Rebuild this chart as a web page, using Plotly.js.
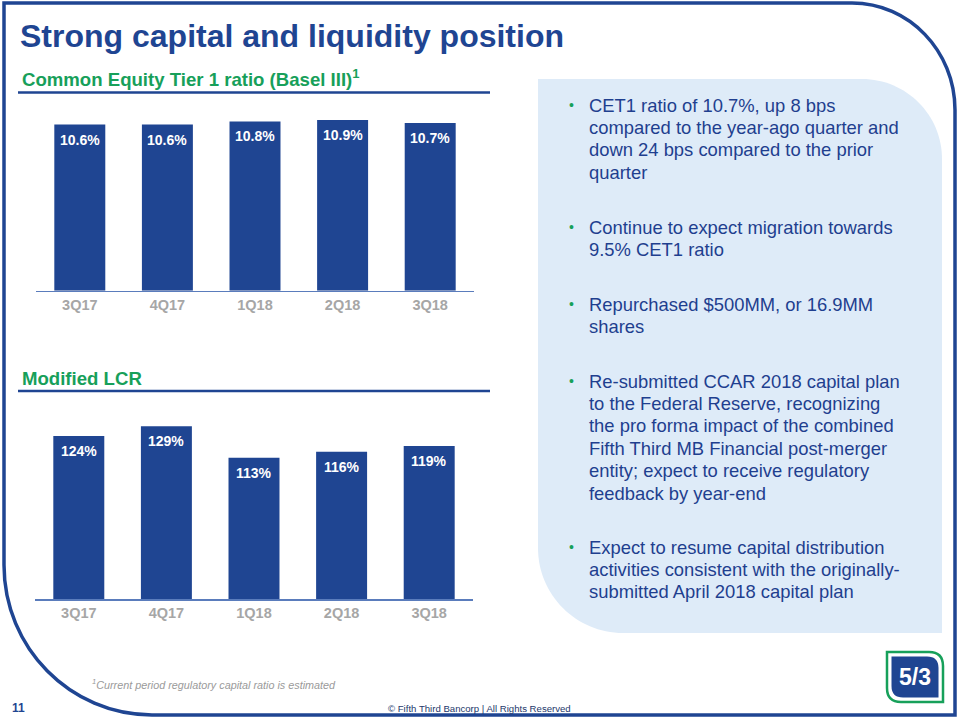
<!DOCTYPE html>
<html>
<head>
<meta charset="utf-8">
<script src="https://cdn.plot.ly/plotly-3.0.1.min.js"></script>
<style>
  html, body { margin: 0; padding: 0; background: #ffffff; }
  #chart { width: 960px; height: 720px; }
</style>
</head>
<body>
<div id="chart"></div>
<script>
// ---------------- data ----------------
const categories = ['3Q17', '4Q17', '1Q18', '2Q18', '3Q18'];
const cet1Ratio = [10.6, 10.6, 10.8, 10.9, 10.7];
const modifiedLcr = [124, 129, 113, 116, 119];

const pageTitle = 'Strong capital and liquidity position';
const cet1Title = 'Common Equity Tier 1 ratio (Basel III)<sup>1</sup>';
const lcrTitle = 'Modified LCR';
const footnote = '<sup>1</sup>Current period regulatory capital ratio is estimated';
const pageNumber = '11';
const copyright = '© Fifth Third Bancorp | All Rights Reserved';

const bullets = [
  ['CET1 ratio of 10.7%, up 8 bps', 'compared to the year-ago quarter and', 'down 24 bps compared to the prior', 'quarter'],
  ['Continue to expect migration towards', '9.5% CET1 ratio'],
  ['Repurchased $500MM, or 16.9MM', 'shares'],
  ['Re-submitted CCAR 2018 capital plan', 'to the Federal Reserve, recognizing', 'the pro forma impact of the combined', 'Fifth Third MB Financial post-merger', 'entity; expect to receive regulatory', 'feedback by year-end'],
  ['Expect to resume capital distribution', 'activities consistent with the originally-', 'submitted April 2018 capital plan']
];

// ---------------- styling ----------------
const W = 960, H = 720;
const NAVY = '#1f4592';
const TEXT_NAVY = '#1f3f8f';
const GREEN = '#17a05a';
const GREY = '#a6a6a6';
const PANEL = '#deebf8';
const AXIS = '#5a7cbc';
const FONT = 'Arial, "Liberation Sans", Helvetica, sans-serif';

const xp = px => px / W;
const yp = py => 1 - py / H;
const P = (x, y) => `${xp(x)},${yp(y)}`;

// ---------------- traces ----------------
const traces = [
  { type: 'bar', x: categories, y: cet1Ratio, xaxis: 'x', yaxis: 'y',
    marker: { color: NAVY }, hoverinfo: 'none', showlegend: false },
  { type: 'bar', x: categories, y: modifiedLcr, xaxis: 'x2', yaxis: 'y2',
    marker: { color: NAVY }, hoverinfo: 'none', showlegend: false }
];

// ---------------- annotations ----------------
const ann = [];
categories.forEach((c, i) => {
  ann.push({ xref: 'x', yref: 'y', x: c, y: cet1Ratio[i], text: cet1Ratio[i].toFixed(1) + '%',
    showarrow: false, yanchor: 'middle', yshift: -15,
    font: { family: FONT, size: 14, weight: 700, color: '#ffffff' } });
  ann.push({ xref: 'x2', yref: 'y2', x: c, y: modifiedLcr[i], text: modifiedLcr[i] + '%',
    showarrow: false, yanchor: 'middle', yshift: -15,
    font: { family: FONT, size: 14, weight: 700, color: '#ffffff' } });
});

const txt = (text, x, y, size, color, opts = {}) => Object.assign({
  xref: 'paper', yref: 'paper', x: xp(x), y: yp(y), text: text, showarrow: false,
  xanchor: 'left', yanchor: 'middle', borderpad: 0,
  font: { family: FONT, size: size, color: color }
}, opts);

ann.push(txt(pageTitle, 19, 36, 32, NAVY, { font: { family: FONT, size: 32, weight: 700, color: NAVY } }));
ann.push(txt(cet1Title, 21, 78, 18.6, GREEN, { font: { family: FONT, size: 18.6, weight: 700, color: GREEN } }));
ann.push(txt(lcrTitle, 21, 378, 18.6, GREEN, { font: { family: FONT, size: 18.6, weight: 700, color: GREEN } }));

// bullet panel text
const bulletStarts = [105, 227, 304, 381, 547];
const lineGap = 22.4;
bullets.forEach((lines, b) => {
  ann.push(txt('•', 568, bulletStarts[b], 14, GREEN));
  lines.forEach((line, j) => {
    ann.push(txt(line, 588, bulletStarts[b] + j * lineGap, 18.4, TEXT_NAVY));
  });
});

ann.push(txt(footnote, 91, 684, 10.8, '#9a9a9a', { font: { family: FONT, size: 10.8, color: '#9a9a9a', style: 'italic' } }));
ann.push(txt(pageNumber, 11, 708, 12, NAVY, { font: { family: FONT, size: 12, weight: 700, color: NAVY } }));
ann.push(txt(copyright, 479, 708, 9.6, '#24386b', { xanchor: 'center' }));
ann.push(txt('5/3', 915, 677, 23, '#ffffff', { xanchor: 'center', font: { family: FONT, size: 23, weight: 700, color: '#ffffff' } }));

// ---------------- shapes ----------------
const k = 0.5523;
const panelPath = `M${P(538, 79)} L${P(862, 79)} C${P(862 + 80 * k, 79)} ${P(942, 159 - 80 * k)} ${P(942, 159)} L${P(942, 633)} L${P(623, 633)} C${P(623 - 85 * k, 633)} ${P(538, 548 + 85 * k)} ${P(538, 548)} Z`;
const framePath = `M${P(4, 3)} L${P(852, 3)} C${P(852 + 103 * k, 3)} ${P(955, 110 - 107 * k)} ${P(955, 110)} L${P(955, 715)} L${P(152, 715)} C${P(152 - 148 * k, 715)} ${P(4, 565 + 150 * k)} ${P(4, 565)} Z`;
const logoOuter = `M${P(887, 652)} L${P(929, 652)} Q${P(943, 652)} ${P(943, 666)} L${P(943, 702)} L${P(901, 702)} Q${P(887, 702)} ${P(887, 688)} Z`;
const logoInner = `M${P(891.5, 656.5)} L${P(927, 656.5)} Q${P(938.5, 656.5)} ${P(938.5, 668)} L${P(938.5, 697.5)} L${P(903, 697.5)} Q${P(891.5, 697.5)} ${P(891.5, 686)} Z`;

const shapes = [
  { type: 'path', xref: 'paper', yref: 'paper', path: panelPath, fillcolor: PANEL, line: { width: 0 }, layer: 'below' },
  { type: 'path', xref: 'paper', yref: 'paper', path: framePath, fillcolor: 'rgba(0,0,0,0)', line: { color: NAVY, width: 3.5 }, layer: 'above' },
  { type: 'line', xref: 'paper', yref: 'paper', x0: xp(18), x1: xp(490), y0: yp(92.5), y1: yp(92.5), line: { color: NAVY, width: 2.5 } },
  { type: 'line', xref: 'paper', yref: 'paper', x0: xp(18), x1: xp(490), y0: yp(391), y1: yp(391), line: { color: NAVY, width: 2.5 } },
  { type: 'path', xref: 'paper', yref: 'paper', path: logoOuter, fillcolor: '#ffffff', line: { color: GREEN, width: 2.5 } },
  { type: 'path', xref: 'paper', yref: 'paper', path: logoInner, fillcolor: NAVY, line: { width: 0 } }
];

// ---------------- layout ----------------
const xaxisBase = {
  type: 'category', showgrid: false, zeroline: false, showline: true,
  linecolor: AXIS, linewidth: 1.5, ticks: '', fixedrange: true,
  tickfont: { family: FONT, size: 14.5, weight: 700, color: GREY }
};
const yaxisBase = { visible: false, showgrid: false, zeroline: false, fixedrange: true };

const layout = {
  width: W, height: H,
  margin: { l: 0, r: 0, t: 0, b: 0 },
  paper_bgcolor: '#ffffff', plot_bgcolor: 'rgba(0,0,0,0)',
  bargap: 0.418, showlegend: false,
  font: { family: FONT },
  xaxis: Object.assign({}, xaxisBase, { domain: [xp(36), xp(474)], anchor: 'y' }),
  yaxis: Object.assign({}, yaxisBase, { domain: [yp(290.7), yp(100)], range: [0, 12.17], anchor: 'x' }),
  xaxis2: Object.assign({}, xaxisBase, { domain: [xp(35), xp(473)], anchor: 'y2' }),
  yaxis2: Object.assign({}, yaxisBase, { domain: [yp(599), yp(390)], range: [41, 147.5], anchor: 'x2' }),
  annotations: ann,
  shapes: shapes
};

Plotly.newPlot('chart', traces, layout, { displayModeBar: false, staticPlot: true });
</script>
</body>
</html>
